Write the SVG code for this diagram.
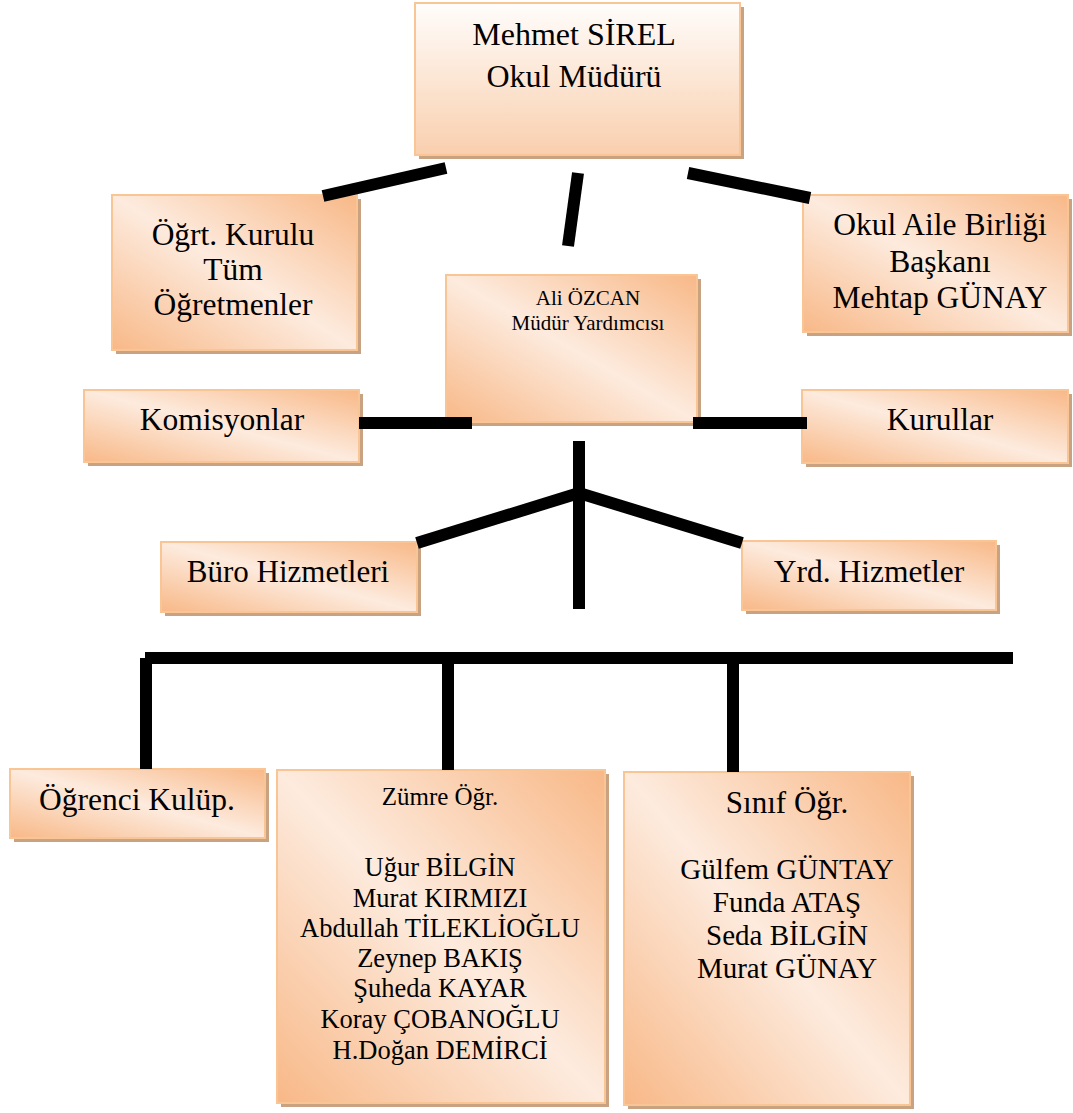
<svg xmlns="http://www.w3.org/2000/svg" width="1073" height="1113" viewBox="0 0 1073 1113">
<style>
.box{stroke:#f9c594;stroke-width:2;fill:url(#g)}
.sh{fill:#c9a381}
text{font-family:"Liberation Serif","Times New Roman",serif;fill:#000;text-anchor:middle}
.c{stroke:#000;stroke-width:12;stroke-linecap:butt;fill:none}
</style>
<defs>
<linearGradient id="g" x1="1" y1="0" x2="0" y2="1">
<stop offset="0" stop-color="#f8b887"/>
<stop offset="0.5" stop-color="#fdebde"/>
<stop offset="1" stop-color="#f8b887"/>
</linearGradient>
<linearGradient id="gt" x1="0" y1="0" x2="0" y2="1">
<stop offset="0" stop-color="#fffdfb"/>
<stop offset="1" stop-color="#f9cfae"/>
</linearGradient>
</defs>
<rect width="1073" height="1113" fill="#fff"/>
<g id="n-mudur">
<rect class="sh" x="419" y="7" width="325" height="152"/>
<rect class="box" x="415" y="3" width="325" height="152" style="fill:url(#gt)"/>
<text x="574" y="45" font-size="32">Mehmet SİREL</text>
<text x="574" y="87" font-size="32">Okul Müdürü</text>
</g>
<g id="n-ogrt">
<rect class="sh" x="116" y="199" width="245" height="155"/>
<rect class="box" x="112" y="195" width="245" height="155"/>
<text x="233" y="245" font-size="31.5">Öğrt. Kurulu</text>
<text x="233" y="280" font-size="31.5">Tüm</text>
<text x="233" y="315" font-size="31.5">Öğretmenler</text>
</g>
<g id="n-aile">
<rect class="sh" x="807" y="199" width="265" height="137"/>
<rect class="box" x="803" y="195" width="265" height="137"/>
<text x="940" y="235" font-size="31.5">Okul Aile Birliği</text>
<text x="940" y="272" font-size="31.5">Başkanı</text>
<text x="940" y="308" font-size="31.5">Mehtap GÜNAY</text>
</g>
<g id="n-ali">
<rect class="sh" x="450" y="279" width="251" height="147"/>
<rect class="box" x="446" y="275" width="251" height="147"/>
<text x="588" y="305" font-size="21">Ali ÖZCAN</text>
<text x="588" y="330" font-size="21">Müdür Yardımcısı</text>
</g>
<g id="n-komisyon">
<rect class="sh" x="88" y="394" width="275" height="72"/>
<rect class="box" x="84" y="390" width="275" height="72"/>
<text x="222" y="430" font-size="31.5">Komisyonlar</text>
</g>
<g id="n-kurullar">
<rect class="sh" x="806" y="394" width="266" height="73"/>
<rect class="box" x="802" y="390" width="266" height="73"/>
<text x="940" y="430" font-size="31.5">Kurullar</text>
</g>
<g id="n-buro">
<rect class="sh" x="165" y="546" width="256" height="70"/>
<rect class="box" x="161" y="542" width="256" height="70"/>
<text x="288" y="582" font-size="31">Büro Hizmetleri</text>
</g>
<g id="n-yrd">
<rect class="sh" x="746" y="545" width="254" height="69"/>
<rect class="box" x="742" y="541" width="254" height="69"/>
<text x="869" y="582" font-size="31.5">Yrd. Hizmetler</text>
</g>
<g id="n-kulup">
<rect class="sh" x="14" y="773" width="255" height="69"/>
<rect class="box" x="10" y="769" width="255" height="69"/>
<text x="137" y="810" font-size="31.5">Öğrenci Kulüp.</text>
</g>
<g id="n-zumre">
<rect class="sh" x="281" y="774" width="328" height="333"/>
<rect class="box" x="277" y="770" width="328" height="333"/>
<text x="440" y="805" font-size="25">Zümre Öğr.</text>
<text x="440" y="876" font-size="26.5">Uğur BİLGİN</text>
<text x="440" y="907" font-size="26.5">Murat KIRMIZI</text>
<text x="440" y="937" font-size="26.5">Abdullah TİLEKLİOĞLU</text>
<text x="440" y="967" font-size="26.5">Zeynep BAKIŞ</text>
<text x="440" y="997" font-size="26.5">Şuheda KAYAR</text>
<text x="440" y="1028" font-size="26.5">Koray ÇOBANOĞLU</text>
<text x="440" y="1059" font-size="26.5">H.Doğan DEMİRCİ</text>
</g>
<g id="n-sinif">
<rect class="sh" x="628" y="776" width="286" height="333"/>
<rect class="box" x="624" y="772" width="286" height="333"/>
<text x="787" y="813" font-size="31">Sınıf Öğr.</text>
<text x="787" y="879" font-size="29">Gülfem GÜNTAY</text>
<text x="787" y="912" font-size="29">Funda ATAŞ</text>
<text x="787" y="945" font-size="29">Seda BİLGİN</text>
<text x="787" y="978" font-size="29">Murat GÜNAY</text>
</g>
<g id="connectors">
<line class="c" x1="446" y1="168" x2="323" y2="196"/>
<line class="c" x1="578" y1="173" x2="568" y2="246"/>
<line class="c" x1="688" y1="173" x2="810" y2="198"/>
<line class="c" x1="359" y1="423" x2="472" y2="423"/>
<line class="c" x1="693" y1="423" x2="807" y2="423"/>
<line class="c" x1="579" y1="441" x2="579" y2="609"/>
<line class="c" x1="579" y1="493" x2="417" y2="543"/>
<line class="c" x1="579" y1="493" x2="742" y2="543"/>
<line class="c" x1="145" y1="658" x2="1013" y2="658" stroke-width="11"/>
<line class="c" x1="146" y1="658" x2="146" y2="769"/>
<line class="c" x1="448" y1="658" x2="448" y2="770"/>
<line class="c" x1="733" y1="658" x2="733" y2="772"/>
</g>
</svg>
